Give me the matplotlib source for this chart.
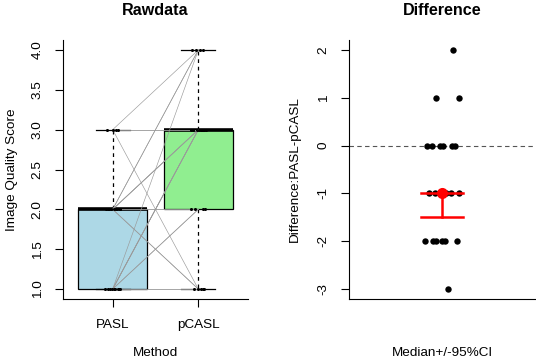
import numpy as np
import matplotlib
matplotlib.use("Agg")
import matplotlib.pyplot as plt

plt.rcParams['font.family'] = ['Liberation Sans', 'DejaVu Sans']

# ---- data ----
methods = ["PASL", "pCASL"]
pasl  = [3, 2, 2, 1, 1, 2, 2, 3, 3, 1, 1, 2, 2, 2, 3, 1, 1, 1, 1, 2, 2, 1]
pcasl = [1, 1, 1, 1, 1, 2, 2, 3, 3, 2, 2, 3, 3, 3, 4, 3, 3, 3, 3, 4, 4, 4]
# horizontal jitter of the raw points (approx.)
jit_pasl  = [0.04, -0.06, 0.08, -0.09, -0.03, -0.02, 0.05, -0.07, 0.06,
             0.01, 0.07, 0.09, -0.08, 0.02, 0.0, -0.05, 0.03, 0.09, -0.01,
             0.04, -0.04, 0.06]
jit_pcasl = [-0.05, 0.03, 0.07, 0.0, 0.05, -0.04, 0.06, -0.06, 0.03,
             0.08, -0.08, 0.01, -0.02, 0.07, -0.07, 0.04, -0.09, 0.09,
             0.05, 0.02, 0.06, -0.03]
# horizontal jitter of the difference points
jit_diff = [0.06, -0.03, 0.09, -0.08, -0.054, -0.01, 0.005, 0.054, 0.07,
            -0.07, -0.04, -0.01, 0.02, 0.05, 0.09,
            -0.09, -0.05, -0.03, 0.0, 0.016, 0.08, 0.03]
ci_low, ci_high = -1.5, -1.0
yticks_raw = [1.0, 1.5, 2.0, 2.5, 3.0, 3.5, 4.0]
yticks_diff = [-3, -2, -1, 0, 1, 2]

pasl = np.array(pasl); pcasl = np.array(pcasl)
diff = pasl - pcasl
med = np.median(diff)

fig = plt.figure(figsize=(5.36, 3.62), dpi=100)
fs = 9.7

# ---------------- left panel ----------------
ax1 = fig.add_axes([63/536, (362-298.6)/362, 185/536, 258.2/362])
bp = ax1.boxplot([pasl, pcasl], positions=[1, 2], widths=0.8, whis=1.5,
                 patch_artist=True, showfliers=False,
                 medianprops=dict(color='black', linewidth=2.6),
                 whiskerprops=dict(color='black', linestyle=(0, (3, 3)), linewidth=0.9),
                 capprops=dict(color='black', linewidth=0.9),
                 boxprops=dict(edgecolor='black', linewidth=0.9),
                 capwidths=0.4, zorder=1)
for patch, col in zip(bp['boxes'], ['#ADD8E6', '#90EE90']):
    patch.set_facecolor(col)

for a, b in zip(pasl, pcasl):
    ax1.plot([1, 2], [a, b], color='#9a9a9a', linewidth=0.45, zorder=3)
ax1.plot(1 + np.array(jit_pasl), pasl, 'o', color='black', markersize=2.2,
         markeredgewidth=0, zorder=4)
ax1.plot(2 + np.array(jit_pcasl), pcasl, 'o', color='black', markersize=2.2,
         markeredgewidth=0, zorder=4)

ax1.set_xlim(0.42, 2.58)
ax1.set_ylim(0.88, 4.12)
ax1.set_xticks([1, 2])
ax1.set_xticklabels(methods, fontsize=fs)
ax1.set_yticks(yticks_raw)
ax1.set_yticklabels([f"{v:.1f}" for v in yticks_raw], fontsize=fs,
                    rotation=90, va='center')
ax1.tick_params(axis='both', length=6, width=0.8, color='black')
ax1.tick_params(axis='x', pad=9)
ax1.tick_params(axis='y', pad=8)
for s in ['top', 'right']:
    ax1.spines[s].set_visible(False)
for s in ['left', 'bottom']:
    ax1.spines[s].set_linewidth(0.8)
ax1.set_xlabel("Method", fontsize=fs, va='center')
ax1.xaxis.set_label_coords(0.5, -0.21)
ax1.set_ylabel("Image Quality Score", fontsize=fs, va='center')
ax1.yaxis.set_label_coords(-0.276, 0.5)
ax1.set_title("Rawdata", fontsize=11.6, fontweight='bold', pad=18)

# ---------------- right panel ----------------
ax2 = fig.add_axes([349/536, (362-298.6)/362, 186/536, 258.2/362])
ax2.axhline(0, color='#555555', linestyle=(0, (4, 3)), linewidth=0.8, zorder=1)
ax2.plot(1 + np.array(jit_diff), diff, 'o', color='black', markersize=4.6,
         markeredgewidth=0, zorder=2)
ax2.plot([1, 1], [ci_low, ci_high], color='red', linewidth=1.8, zorder=3)
ax2.plot([0.887, 1.113], [ci_low, ci_low], color='red', linewidth=1.8, zorder=3)
ax2.plot([0.887, 1.113], [ci_high, ci_high], color='red', linewidth=1.8, zorder=3)
ax2.plot([1], [med], 'o', color='red', markersize=8, markeredgewidth=0, zorder=4)

ax2.set_xlim(0.5, 1.5)
ax2.set_ylim(-3.2, 2.2)
ax2.set_xticks([])
ax2.set_yticks(yticks_diff)
ax2.set_yticklabels([str(v) for v in yticks_diff], fontsize=fs,
                    rotation=90, va='center')
ax2.tick_params(axis='y', length=6, width=0.8, color='black', pad=8)
for s in ['top', 'right']:
    ax2.spines[s].set_visible(False)
for s in ['left', 'bottom']:
    ax2.spines[s].set_linewidth(0.8)
ax2.set_xlabel("Median+/-95%CI", fontsize=fs, va='center')
ax2.xaxis.set_label_coords(0.5, -0.21)
ax2.set_ylabel("Difference:PASL-pCASL", fontsize=fs, va='center')
ax2.yaxis.set_label_coords(-0.29, 0.5)
ax2.set_title("Difference", fontsize=11.6, fontweight='bold', pad=18)

fig.savefig("out.png", dpi=100)
